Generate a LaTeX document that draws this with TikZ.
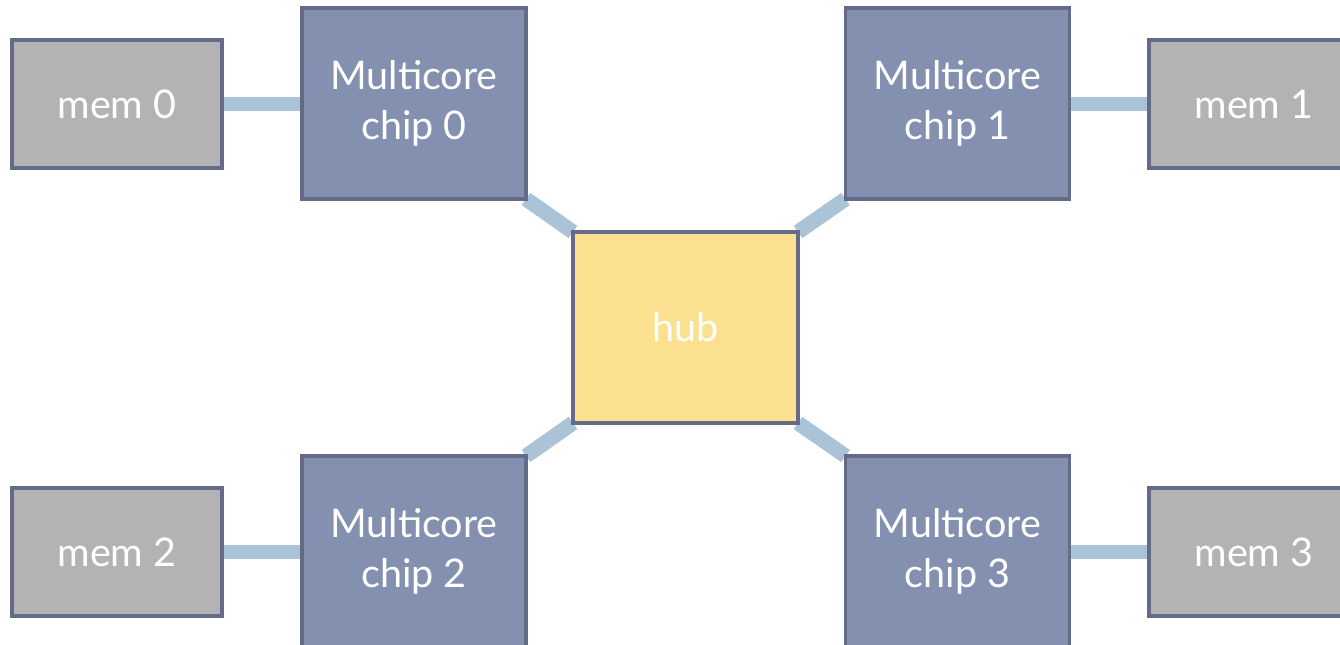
\documentclass[tikz,border=0pt]{standalone}
\usepackage{fontspec}
\setmainfont{Lato}
\usetikzlibrary{backgrounds}
\definecolor{chipfill}{HTML}{8490B0}
\definecolor{memfill}{HTML}{B3B3B3}
\definecolor{hubfill}{HTML}{FBE08F}
\definecolor{boxline}{HTML}{646A87}
\definecolor{linkcol}{HTML}{ABC3D6}
\tikzset{
  box/.style={draw=boxline, line width=2.1pt, rectangle, inner sep=0pt, outer sep=0pt,
    text=white, align=center, font=\fontsize{22.5}{28.5}\selectfont},
  membox/.style={box, fill=memfill, minimum width=210*0.02cm, minimum height=128*0.02cm},
  chipbox/.style={box, fill=chipfill, minimum width=224*0.02cm, minimum height=191*0.02cm},
  hubbox/.style={box, fill=hubfill, minimum width=225*0.02cm, minimum height=191*0.02cm},
  link/.style={draw=linkcol, line width=8.5pt, line cap=butt}
}
\begin{document}
\begin{tikzpicture}[x=0.02cm, y=-0.02cm]
\useasboundingbox (0,0) rectangle (1340,645);
\clip (0,0) rectangle (1340,645);
% boxes
\node[membox]  (mem0)  at (117,104)   {mem 0};
\node[chipbox] (chip0) at (414,103.5) {Multicore\\chip 0};
\node[chipbox] (chip1) at (957.5,103.5) {Multicore\\chip 1};
\node[membox]  (mem1)  at (1254,104)  {mem 1};
\node[hubbox]  (hub)   at (685.5,327.5) {hub};
\node[membox]  (mem2)  at (117,552)   {mem 2};
\node[chipbox] (chip2) at (414,551.5) {Multicore\\chip 2};
\node[chipbox] (chip3) at (957.5,551.5) {Multicore\\chip 3};
\node[membox]  (mem3)  at (1254,552)  {mem 3};
% links, drawn behind the boxes
\begin{scope}[on background layer]
  \draw[link] (mem0.east) -- (mem0.east -| chip0.west);
  \draw[link] (mem1.west) -- (mem1.west -| chip1.east);
  \draw[link] (mem2.east) -- (mem2.east -| chip2.west);
  \draw[link] (mem3.west) -- (mem3.west -| chip3.east);
  \draw[link] (chip0.south east) -- (hub.north west);
  \draw[link] (chip1.south west) -- (hub.north east);
  \draw[link] (chip2.north east) -- (hub.south west);
  \draw[link] (chip3.north west) -- (hub.south east);
\end{scope}
\end{tikzpicture}
\end{document}
